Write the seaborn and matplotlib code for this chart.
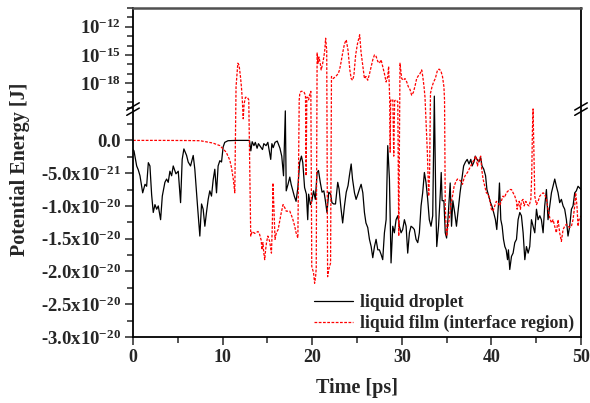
import numpy as np
import matplotlib
matplotlib.use("Agg")
import matplotlib.pyplot as plt
from matplotlib.ticker import FixedLocator
import seaborn as sns

# ---- data (time in ps) ----
# liquid droplet, energy in units of 1e-20 J
droplet_t = [
    0.0, 0.11, 0.41, 0.59, 0.78, 1.08, 1.34, 1.52, 1.71, 1.89,
    2.08, 2.26, 2.45, 2.64, 2.82, 3.08, 3.27, 3.56, 3.75, 3.93,
    4.12, 4.31, 4.49, 4.79, 5.05, 5.31, 5.49, 5.68, 5.98, 6.16,
    6.42, 6.72, 6.90, 7.20, 7.46, 7.65, 7.83, 8.02, 8.20, 8.39,
    8.57, 8.76, 8.95, 9.13, 9.32, 9.50, 9.69, 9.88, 10.06, 10.24,
    10.6, 11.5, 12.5, 13.0, 13.15, 13.3, 13.5, 13.65, 13.85, 14.0,
    14.25, 14.45, 14.6, 14.85, 15.05, 15.37, 15.5, 15.65, 15.85, 16.1,
    16.4, 16.6, 16.8, 17.0, 17.1, 17.3, 17.5, 17.65, 17.85, 18.0,
    18.2, 18.4, 18.6, 18.8, 18.95, 19.15, 19.35, 19.5, 19.6, 19.8,
    19.95, 20.15, 20.35, 20.55, 20.7, 20.9, 21.1, 21.3, 21.45, 21.65,
    21.85, 22.05, 22.2, 22.4, 22.6, 22.85, 23.0, 23.2, 23.4, 23.6,
    23.8, 24.0, 24.15, 24.35, 24.5, 24.72, 24.9, 25.1, 25.28, 25.46,
    25.65, 25.83, 26.0, 26.2, 26.39, 26.58, 26.76, 26.95, 27.13, 27.32,
    27.5, 27.69, 27.87, 28.06, 28.25, 28.43, 28.62, 28.8, 28.99, 29.17,
    29.36, 29.55, 29.73, 29.92, 30.1, 30.29, 30.48, 30.66, 30.85, 31.03,
    31.22, 31.4, 31.59, 31.78, 31.96, 32.15, 32.33, 32.52, 32.7, 32.89,
    33.07, 33.26, 33.45, 33.63, 33.8, 33.9, 34.1, 34.3, 34.4, 34.5,
    34.7, 34.85, 35.0, 35.2, 35.4, 35.55, 35.7, 35.9, 36.1, 36.3,
    36.5, 36.7, 36.9, 37.1, 37.3, 37.5, 37.7, 37.85, 38.05, 38.2,
    38.4, 38.6, 38.8, 38.95, 39.15, 39.35, 39.5, 39.7, 39.9, 40.05,
    40.25, 40.45, 40.6, 40.8, 40.9, 41.05, 41.2, 41.35, 41.5, 41.65,
    41.8, 41.9, 42.05, 42.24, 42.42, 42.61, 42.8, 42.98, 43.17, 43.35,
    43.54, 43.73, 43.91, 44.1, 44.28, 44.47, 44.65, 44.84, 45.03, 45.21,
    45.4, 45.58, 45.77, 45.95, 46.14, 46.32, 46.51, 46.7, 46.88, 47.07,
    47.25, 47.44, 47.62, 47.81, 48.0, 48.18, 48.37, 48.55, 48.74, 48.93,
    49.11, 49.3, 49.48, 49.67, 50.0,
]
droplet_e = [
    -0.14, -0.16, -0.39, -0.45, -0.54, -0.80, -0.67, -0.70, -0.34, -0.39,
    -0.83, -1.10, -0.98, -1.05, -1.00, -1.21, -0.85, -0.64, -0.59, -0.64,
    -0.47, -0.54, -0.39, -0.51, -0.47, -0.95, -0.29, -0.13, -0.23, -0.33,
    -0.39, -0.23, -0.44, -1.00, -1.46, -0.97, -1.05, -1.31, -1.10, -0.90,
    -0.77, -0.85, -0.60, -0.44, -0.80, -0.39, -0.31, -0.33, -0.10, -0.03,
    -0.005, 0.0, 0.0, 0.0, -0.16, -0.02, -0.08, -0.03, -0.12, -0.05,
    -0.10, -0.14, -0.05, -0.08, -0.03, -0.29, -0.05, -0.11, -0.03, -0.01,
    -0.12, -0.24, -0.54, 0.45, -0.77, -0.67, -0.56, -0.67, -0.77, -0.85,
    -0.93, -0.72, -0.34, -0.24, -0.34, -0.72, -0.82, -1.21, -0.82, -0.98,
    -0.93, -0.77, -0.90, -0.49, -0.46, -0.64, -0.79, -0.77, -0.90, -1.10,
    -0.79, -0.82, -0.95, -0.97, -0.97, -0.64, -0.74, -1.02, -1.26, -1.00,
    -0.79, -0.69, -0.54, -0.36, -0.59, -0.80, -0.90, -0.82, -0.74, -0.67,
    -0.80, -1.10, -1.26, -1.33, -1.51, -1.62, -1.79, -1.62, -1.51, -1.67,
    -1.67, -1.74, -1.82, -1.41, -1.21, -0.08, -0.59, -1.87, -1.31, -1.41,
    -1.21, -1.15, -1.31, -1.41, -1.36, -1.21, -1.31, -1.72, -1.41, -1.31,
    -1.33, -1.36, -1.51, -1.56, -1.41, -1.00, -0.80, -0.49, -0.64, -0.90,
    -1.21, -1.31, -1.15, 4.0, -1.00, -1.62, -1.31, -0.80, -0.49, -0.92,
    -0.92, -1.41, -1.49, -1.10, -0.65, -1.31, -0.92, -1.10, -1.31, -1.05,
    -0.80, -0.59, -0.39, -0.33, -0.29, -0.36, -0.29, -0.39, -0.33, -0.24,
    -0.29, -0.33, -0.26, -0.39, -0.44, -0.54, -0.75, -0.85, -0.95, -1.00,
    -1.10, -1.21, -1.36, -0.95, -0.65, -1.21, -1.31, -1.51, -1.62, -1.67,
    -1.82, -1.67, -1.97, -1.77, -1.72, -1.56, -1.51, -1.21, -1.10, -1.15,
    -1.41, -1.82, -1.62, -1.72, -1.62, -1.21, -1.31, -1.41, -1.05, -1.21,
    -1.15, -1.21, -1.41, -1.00, -0.75, -1.21, -1.00, -0.80, -0.70, -0.59,
    -0.70, -0.80, -0.95, -0.90, -1.00, -1.05, -1.21, -1.46, -1.31, -1.05,
    -1.00, -0.80, -0.77, -0.70, -0.75,
]

# liquid film (interface region), energy in J
film_t = [
    0.0, 3.0, 6.0, 7.5, 8.9, 9.7, 10.4, 10.8, 11.0, 11.2,
    11.36, 11.5, 11.7, 11.84, 11.99, 12.1, 12.2, 12.3, 12.4, 12.55,
    12.77, 12.92, 13.14, 13.3, 13.6, 13.95, 14.1, 14.3, 14.4, 14.5,
    14.6, 14.7, 14.8, 14.9, 15.05, 15.25, 15.45, 15.55, 15.62, 15.72,
    15.85, 16.0, 16.2, 16.4, 16.55, 16.75, 16.95, 17.1, 17.3, 17.5,
    17.7, 17.85, 18.05, 18.2, 18.4, 18.55, 18.62, 18.75, 18.95, 19.1,
    19.25, 19.32, 19.4, 19.5, 19.6, 19.7, 19.85, 19.95, 20.15, 20.27,
    20.38, 20.45, 20.55, 20.65, 20.75, 20.9, 21.0, 21.15, 21.3, 21.4,
    21.5, 21.62, 21.72, 21.85, 22.05, 22.15, 22.35, 22.5, 22.7, 22.9,
    23.05, 23.2, 23.4, 23.6, 23.8, 24.0, 24.2, 24.35, 24.5, 24.65,
    24.85, 25.05, 25.3, 25.45, 25.65, 25.83, 26.0, 26.2, 26.4, 26.76,
    26.95, 27.13, 27.32, 27.5, 27.69, 27.87, 28.06, 28.25, 28.43, 28.53,
    28.65, 28.7, 28.76, 28.87, 29.0, 29.1, 29.2, 29.36, 29.45, 29.55,
    29.66, 29.73, 29.8, 29.99, 30.17, 30.36, 30.55, 30.73, 30.92, 31.1,
    31.29, 31.48, 31.66, 31.85, 32.03, 32.22, 32.33, 32.48, 32.59, 32.85,
    33.0, 33.1, 33.2, 33.37, 33.55, 33.74, 33.88, 33.99, 34.17, 34.36,
    34.54, 34.7, 34.77, 34.85, 34.92, 35.0, 35.1, 35.29, 35.47, 35.66,
    35.84, 36.03, 36.21, 36.4, 36.58, 36.77, 36.96, 37.14, 37.33, 37.51,
    37.7, 37.88, 38.07, 38.26, 38.44, 38.63, 38.81, 38.92, 39.07, 39.26,
    39.44, 39.63, 39.81, 40.0, 40.18, 40.37, 40.55, 40.74, 40.92, 41.1,
    41.29, 41.48, 41.66, 41.88, 42.05, 42.24, 42.42, 42.61, 42.8, 42.87,
    42.98, 43.1, 43.24, 43.35, 43.54, 43.65, 43.84, 44.02, 44.2, 44.4,
    44.5, 44.58, 44.65, 44.76, 44.84, 45.03, 45.21, 45.4, 45.58, 45.77,
    45.95, 46.14, 46.32, 46.51, 46.7, 46.88, 47.07, 47.25, 47.44, 47.62,
    47.81, 48.0, 48.18, 48.37, 48.55, 48.74, 48.93, 49.11, 49.3, 49.4,
    49.55, 49.67, 49.78, 50.0,
]
film_e = [
    0.0, 0.0, -0.002e-20, -0.005e-20, -0.04e-20, -0.08e-20, -0.18e-20, -0.30e-20, -0.42e-20, -0.60e-20,
    -0.80e-20, 4e-19, 1.3e-16, 8e-17, 5e-18, 4e-19, 1.6e-20, 0.33e-20, 6e-21, 3e-20,
    3e-20, 1.6e-20, -1.46e-20, -1.39e-20, -1.42e-20, -1.39e-20, -1.42e-20, -1.52e-20, -1.67e-20, -1.56e-20,
    -1.72e-20, -1.82e-20, -1.67e-20, -1.56e-20, -1.46e-20, -1.54e-20, -1.72e-20, -1.30e-20, -0.65e-20, -1.00e-20,
    -1.51e-20, -1.41e-20, -1.36e-20, -1.21e-20, -1.10e-20, -0.98e-20, -1.03e-20, -1.08e-20, -1.08e-20, -1.08e-20,
    -1.15e-20, -1.21e-20, -1.31e-20, -1.41e-20, -1.49e-20, 1.6e-20, 8e-20, 1.3e-19, 1.3e-19, 1e-19,
    5e-20, -0.54e-20, 3e-20, 3e-20, 1.6e-20, 5e-20, 1.3e-19, -1.92e-20, -2.02e-20, -2.18e-20,
    -2.08e-20, -1.95e-20, 1.6e-15, 1.3e-16, 6e-16, 1.2e-16, 2.5e-17, 1e-16, 6e-16, 3e-15,
    6e-14, 3e-15, -2.08e-20, -1.97e-20, -1.87e-20, 5e-18, 3e-18, 4e-18, 6e-18, 1e-17,
    2.5e-17, 1.3e-16, 1.6e-15, 1.5e-14, 4e-14, 3e-15, 2.5e-17, 3e-18, 2e-18, 6e-18,
    1e-15, 1.5e-14, 1.4e-13, 2e-15, 6e-17, 3e-18, 5e-18, 2e-18, 1e-17, 3e-16,
    1e-15, 7e-16, 2e-16, 1.3e-16, 3e-16, 6e-17, 1e-17, 1.3e-18, 5e-18, 6e-17,
    1.6e-20, -0.18e-20, 1.6e-20, 1.3e-20, 1.6e-20, -0.24e-20, 1.3e-20, 1.6e-20, 1.3e-20, 1e-20,
    -1.46e-20, -0.2e-20, 1.3e-16, 3e-18, 2e-18, 3e-18, 1.3e-18, 4e-19, 2e-19, 5e-20,
    1e-19, 5e-19, 3e-18, 6e-18, 1e-17, 2.5e-17, 6e-18, 4e-19, 3e-20, -0.18e-20,
    -0.85e-20, -0.5e-20, 8e-20, 4e-19, 1.3e-18, 3e-18, 1e-17, 2.5e-17, 3e-17, 2e-17,
    5e-18, 4e-19, 1.6e-20, -1.00e-20, -1.26e-20, -1.46e-20, -1.36e-20, -1.21e-20, -0.98e-20, -0.85e-20,
    -0.70e-20, -0.63e-20, -0.59e-20, -0.60e-20, -0.62e-20, -0.67e-20, -0.57e-20, -0.52e-20, -0.49e-20, -0.44e-20,
    -0.39e-20, -0.34e-20, -0.29e-20, -0.24e-20, -0.39e-20, -0.29e-20, -0.24e-20, -0.44e-20, -0.59e-20, -0.70e-20,
    -0.80e-20, -0.82e-20, -0.90e-20, -1.05e-20, -1.08e-20, -1.00e-20, -0.93e-20, -0.95e-20, -1.00e-20, -0.93e-20,
    -0.85e-20, -0.87e-20, -0.80e-20, -0.77e-20, -0.75e-20, -0.75e-20, -0.80e-20, -0.85e-20, -0.93e-20, -1.05e-20,
    -0.98e-20, -0.93e-20, -1.05e-20, -0.93e-20, -0.90e-20, -1.00e-20, -0.93e-20, -0.98e-20, -1.00e-20, -0.90e-20,
    -0.54e-20, 0.17e-20, 0.48e-20, -0.30e-20, -0.85e-20, -0.98e-20, -0.93e-20, -0.85e-20, -0.82e-20, -0.80e-20,
    -0.82e-20, -0.90e-20, -1.05e-20, -1.18e-20, -1.26e-20, -1.21e-20, -1.31e-20, -1.41e-20, -1.21e-20, -1.41e-20,
    -1.54e-20, -1.36e-20, -1.31e-20, -1.28e-20, -1.31e-20, -1.33e-20, -1.31e-20, -1.21e-20, -1.00e-20, -0.80e-20,
    -1.00e-20, -1.31e-20, -1.21e-20, -1.15e-20,
]

ytick_vals = [-3.0e-20, -2.5e-20, -2.0e-20, -1.5e-20, -1.0e-20, -0.5e-20, 0.0, 1e-18, 1e-15, 1e-12]
ytick_labels = ["-3.0x10$^{-20}$", "-2.5x10$^{-20}$", "-2.0x10$^{-20}$", "-1.5x10$^{-20}$",
                "-1.0x10$^{-20}$", "-5.0x10$^{-21}$", "0.0",
                "10$^{-18}$", "10$^{-15}$", "10$^{-12}$"]
xtick_vals = [0, 10, 20, 30, 40, 50]

# ---- broken y axis: linear below 0.5e-20, log above ----
Y_BRK = 0.5e-20
LIN = 6.52e21      # "pixels" per J in the linear part
GAP = 3.0
DEC = 9.33         # "pixels" per decade in the log part


def fwd(y):
    y = np.asarray(y, dtype=float)
    with np.errstate(all="ignore"):
        low = y * LIN
        up = Y_BRK * LIN + GAP + (np.log10(np.maximum(y, Y_BRK)) - np.log10(Y_BRK)) * DEC
    return np.where(y <= Y_BRK, low, up)


def inv(u):
    u = np.asarray(u, dtype=float)
    top = Y_BRK * LIN + GAP
    with np.errstate(all="ignore"):
        low = u / LIN
        up = Y_BRK * 10 ** ((np.clip(u, top, 1e4) - top) / DEC)
    return np.where(u <= Y_BRK * LIN, low, np.where(u < top, Y_BRK, up))


sns.set_style("ticks")
plt.rcParams["font.family"] = ["Liberation Serif", "DejaVu Serif"]
plt.rcParams["font.weight"] = "bold"
plt.rcParams["mathtext.fontset"] = "custom"
plt.rcParams["mathtext.rm"] = "Liberation Serif:bold"
plt.rcParams["mathtext.it"] = "Liberation Serif:bold"
plt.rcParams["mathtext.bf"] = "Liberation Serif:bold"
plt.rcParams["mathtext.default"] = "rm"

fig = plt.figure(figsize=(5.9, 4.03), dpi=100)
ax = fig.add_axes([133 / 590, 1 - 337 / 403, 448 / 590, 329 / 403])

sns.lineplot(x=droplet_t, y=np.array(droplet_e) * 1e-20, ax=ax, color="black",
             lw=0.9, estimator=None, sort=False, label="liquid droplet")
sns.lineplot(x=film_t, y=film_e, ax=ax, color="red", lw=0.9,
             linestyle=(0, (2.2, 1.2)), estimator=None, sort=False,
             label="liquid film (interface region)")

ax.set_yscale("function", functions=(fwd, inv))
ax.set_ylim(-3e-20, 1e-10)
ax.set_xlim(0, 50)

ax.yaxis.set_major_locator(FixedLocator(ytick_vals))
ax.set_yticklabels(ytick_labels)
minor_y = list(np.arange(-3.0e-20, 0.51e-20, 0.25e-20)) + [10.0 ** k for k in range(-20, -9)]
ax.yaxis.set_minor_locator(FixedLocator(minor_y))
ax.set_xticks(xtick_vals)
ax.set_xticks([5, 15, 25, 35, 45], minor=True)

ax.tick_params(axis="both", which="major", direction="out", length=6, width=1.1,
               pad=2.5, right=False, top=False)
ax.tick_params(axis="y", which="major", labelsize=13.5)
ax.tick_params(axis="x", which="major", labelsize=13, pad=3)
ax.tick_params(axis="both", which="minor", direction="out", length=4, width=1.1,
               right=False, top=False)

for s in ["left", "right", "bottom"]:
    ax.spines[s].set_color("black")
    ax.spines[s].set_linewidth(1.3)
ax.spines["top"].set_color("#505050")
ax.spines["top"].set_linewidth(1.8)
ax.grid(False)

# break marks on both vertical spines
yb = (fwd(Y_BRK) + GAP / 2 - fwd(-3e-20)) / (fwd(1e-10) - fwd(-3e-20)) - 0.009
for xs in (0.0, 1.0):
    for dy in (-0.008, 0.008):
        ax.plot([xs - 0.014, xs + 0.014], [yb + dy - 0.011, yb + dy + 0.011],
                transform=ax.transAxes, color="black", lw=1.1, clip_on=False)

ax.set_xlabel("Time [ps]", fontsize=14.5, fontweight="bold", labelpad=8)
ax.set_ylabel("Potential Energy [J]", fontsize=14.5, fontweight="bold")
ax.yaxis.set_label_coords(-0.229, 0.51)

ax.legend(loc="upper left", bbox_to_anchor=(0.405, 0.13), frameon=False,
          fontsize=12.7, handlelength=2.2, handletextpad=0.4, labelspacing=0.2,
          borderaxespad=0, borderpad=0)

fig.savefig("out.png", dpi=100)
